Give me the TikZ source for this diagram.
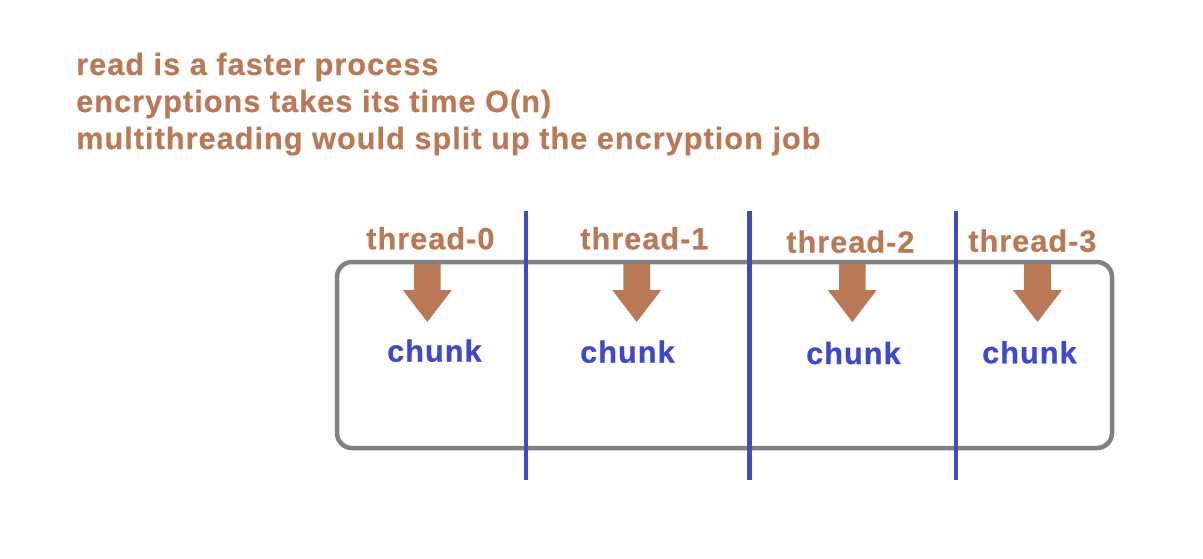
\documentclass[tikz,border=0pt]{standalone}
\usepackage{fontspec}
\setmainfont{Liberation Sans}[LetterSpace=3.3, BoldFeatures={FakeBold=0.5}]

\definecolor{threadbrown}{RGB}{185,121,86}
\definecolor{chunkblue}{RGB}{64,72,204}
\definecolor{boxgray}{RGB}{128,128,128}

\begin{document}
\begin{tikzpicture}[x=1pt, y=-1pt,
        note/.style={font=\fontsize{30.7}{37}\selectfont\bfseries, text=threadbrown, anchor=base west, inner sep=0pt},
        thread_label/.style={font=\fontsize{30.7}{37}\selectfont\bfseries, text=threadbrown, anchor=base west, inner sep=0pt},
        chunk_label/.style={font=\fontsize{30.7}{37}\selectfont\bfseries, text=chunkblue, anchor=base west, inner sep=0pt},
        buffer/.style={draw=boxgray, line width=4.5pt, rounded corners=15pt},
        divider/.style={draw=chunkblue, line width=4.5pt},
        block_arrow/.style={fill=threadbrown}
    ]
    \useasboundingbox (0,0) rectangle (1203,558);

    % Note in alto
    \node[note] (read) at (76,75) {read is a faster process};
    \node[note] (encrypt) at (76,112) {encryptions takes its time O(n)};
    \node[note] (split) at (76,149) {multithreading would split up the encryption job};

    % Riquadro del file
    \draw[buffer] (337,262) rectangle (1112,448);

    % Etichette dei thread
    \node[thread_label] (thread0) at (366,249.3) {thread-0};
    \node[thread_label] (thread1) at (580,249.3) {thread-1};
    \node[thread_label] (thread2) at (786,252.7) {thread-2};
    \node[thread_label] (thread3) at (968,251.7) {thread-3};

    % Frecce
    \fill[block_arrow] (414,264) -- (440.6,264) -- (440.6,290) -- (451.8,290) -- (427.3,322) -- (402.8,290) -- (414,290) -- cycle;
    \fill[block_arrow] (623.4,264) -- (650,264) -- (650,290) -- (661.2,290) -- (636.7,322) -- (612.2,290) -- (623.4,290) -- cycle;
    \fill[block_arrow] (839,264) -- (865.6,264) -- (865.6,290) -- (876.8,290) -- (852.3,322) -- (827.8,290) -- (839,290) -- cycle;
    \fill[block_arrow] (1024.2,264) -- (1050.8,264) -- (1050.8,290) -- (1062,290) -- (1037.5,322) -- (1013,290) -- (1024.2,290) -- cycle;

    % Chunk
    \node[chunk_label] (chunk0) at (387,361.7) {chunk};
    \node[chunk_label] (chunk1) at (580,362.7) {chunk};
    \node[chunk_label] (chunk2) at (806,364) {chunk};
    \node[chunk_label] (chunk3) at (982,363.3) {chunk};

    % Separatori
    \draw[divider] (526,211) -- (526,480);
    \draw[divider] (749.3,211) -- (749.3,480);
    \draw[divider] (956,211) -- (956,480);
\end{tikzpicture}
\end{document}
